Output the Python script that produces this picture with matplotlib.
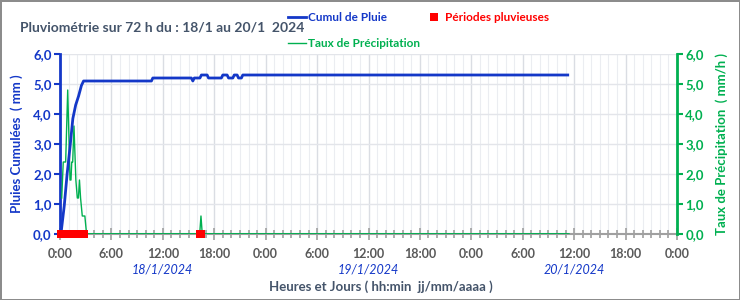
import matplotlib.pyplot as plt
from matplotlib.ticker import MultipleLocator, FuncFormatter

plt.rcParams["font.family"] = ["Lato", "DejaVu Sans"]

# heures depuis le 18/1/2024 0:00
cumul_t = [0, 0.17, 0.5, 0.83, 1.17, 1.5, 1.83, 2.17, 2.5, 2.75,
           10.67, 10.83, 15.33, 15.5, 15.67, 16.33, 16.5, 17.17, 17.33,
           18.83, 19.0, 19.5, 19.67, 20.17, 20.33, 20.67, 20.83, 21.17, 21.33, 59.25]
cumul_v = [0, 0.15, 0.95, 2.0, 2.9, 3.85, 4.3, 4.6, 4.95, 5.1,
           5.1, 5.2, 5.2, 5.1, 5.2, 5.2, 5.3, 5.3, 5.2,
           5.2, 5.3, 5.3, 5.2, 5.2, 5.3, 5.3, 5.2, 5.2, 5.3, 5.3]

taux_t = [0.2, 0.38, 0.66, 0.9, 1.17, 1.28, 1.37, 1.48, 1.63, 1.85, 2.02, 2.15,
          2.27, 2.4, 2.6, 2.9, 3.1, 16.3, 16.45, 16.6, 59.25]
taux_v = [1.2, 2.4, 2.4, 4.8, 1.8, 1.8, 2.4, 2.4, 3.6, 1.8, 1.2, 1.2,
          1.8, 1.2, 0.6, 0.6, 0.0, 0.0, 0.6, 0.0, 0.0]

pluie_t = [0.17, 0.33, 0.5, 0.67, 0.83, 1.0, 1.17, 1.33, 1.5, 1.67, 1.83,
           2.0, 2.17, 2.33, 2.5, 2.67, 2.83, 16.33, 16.5]

jours = ["18/1/2024", "19/1/2024", "20/1/2024"]

BLEU = "#1438C8"
VERT = "#00B050"
ROUGE = "#FF0000"
GRIS = "#595959"
TITRE = "#44546A"

fig = plt.figure(figsize=(7.4, 3.0), dpi=100, edgecolor="#8C8C8C", linewidth=2)
ax = fig.add_axes([60 / 740, 1 - 234 / 300, 617 / 740, 180 / 300])
ax2 = ax.twinx()  # seulement pour l'échelle de droite (même plage 0-6)

ax.set_xlim(0, 72)
ax.set_ylim(0, 6)
ax2.set_ylim(0, 6)

# grille
ax.xaxis.set_major_locator(MultipleLocator(6))
ax.xaxis.set_minor_locator(MultipleLocator(1))
ax.yaxis.set_major_locator(MultipleLocator(1))
ax2.yaxis.set_major_locator(MultipleLocator(1))
ax.grid(which="major", axis="x", color="#DADDE3", lw=1)
ax.grid(which="minor", axis="x", color="#EBEDF1", lw=0.8)
ax.grid(which="major", axis="y", color="#E3E5EA", lw=1)
ax.set_axisbelow(True)

ax.xaxis.set_major_formatter(FuncFormatter(lambda v, p: "%d:00" % (int(round(v)) % 24)))
ax.tick_params(axis="x", which="both", direction="inout", color="#A0A0A0",
               labelsize=9, labelcolor=GRIS, pad=6)
ax.tick_params(axis="x", which="major", length=8, width=1.2)
ax.tick_params(axis="x", which="minor", length=6, width=1.2)
for lbl in ax.get_xticklabels():
    lbl.set_fontweight("bold")

fmt = FuncFormatter(lambda v, p: ("%.1f" % v).replace(".", ","))
ax.yaxis.set_major_formatter(fmt)
ax2.yaxis.set_major_formatter(fmt)
ax.tick_params(axis="y", direction="out", length=4, width=1.5, color=BLEU,
               labelcolor=BLEU, labelsize=9.5, pad=2)
ax2.tick_params(axis="y", direction="out", length=4, width=1.5, color=VERT,
                labelcolor=VERT, labelsize=9.5, pad=2)
for lbl in ax.get_yticklabels() + ax2.get_yticklabels():
    lbl.set_fontweight("bold")

ax.spines["top"].set_visible(False)
ax.spines["right"].set_visible(False)
ax.spines["bottom"].set_color("#A0A0A0")
ax.spines["bottom"].set_linewidth(1.5)
ax.spines["left"].set_color(BLEU)
ax.spines["left"].set_linewidth(2)
for s in ("top", "bottom", "left"):
    ax2.spines[s].set_visible(False)
ax2.spines["right"].set_color(VERT)
ax2.spines["right"].set_linewidth(2)

# séries
l_taux, = ax.plot(taux_t, taux_v, color=VERT, lw=1, zorder=3,
                  label="Taux de Précipitation")
ax.plot([3.1, 59.25], [0, 0], color=VERT, lw=1.8, zorder=3)
l_cumul, = ax.plot(cumul_t, cumul_v, color=BLEU, lw=2, zorder=4,
                   label="Cumul de Pluie")
l_pluie, = ax.plot(pluie_t, [0] * len(pluie_t), ls="none", marker="s", ms=5.2,
                   mew=0, color=ROUGE, clip_on=False, zorder=6,
                   label="Périodes pluvieuses")

# jours sous l'axe
for i, j in enumerate(jours):
    ax.text(24 * i + 12, -0.2, j, transform=ax.get_xaxis_transform(),
            ha="center", va="center", color=BLEU, style="italic", fontsize=9)

ax.set_ylabel("Pluies Cumulées  ( mm )", color=BLEU, fontsize=9.5,
              fontweight="bold", labelpad=7)
ax2.set_ylabel("Taux de Précipitation  ( mm/h )", color=VERT, fontsize=9.5,
               fontweight="bold", labelpad=8)
fig.text(381 / 740, 1 - 287 / 300, "Heures et Jours ( hh:min  jj/mm/aaaa )",
         ha="center", va="center", color=TITRE, fontsize=9.5, fontweight="bold")
fig.text(20 / 740, 1 - 27 / 300, "Pluviométrie sur 72 h du : 18/1 au 20/1  2024",
         ha="left", va="center", color=TITRE, fontsize=10, fontweight="bold")

leg = fig.legend([l_cumul, l_taux, l_pluie],
                 ["Cumul de Pluie", "Taux de Précipitation", "Périodes pluvieuses"],
                 loc="upper left", bbox_to_anchor=(280 / 740, 1 - 4 / 300), ncol=2,
                 frameon=False, fontsize=8.5, handlelength=1.5, handletextpad=0.15,
                 labelspacing=1.25, columnspacing=0.5, borderpad=0.2)
for txt, c in zip(leg.get_texts(), [BLEU, VERT, ROUGE]):
    txt.set_color(c)
    txt.set_fontweight("bold")

fig.savefig("out.png", dpi=100, edgecolor=fig.get_edgecolor())
